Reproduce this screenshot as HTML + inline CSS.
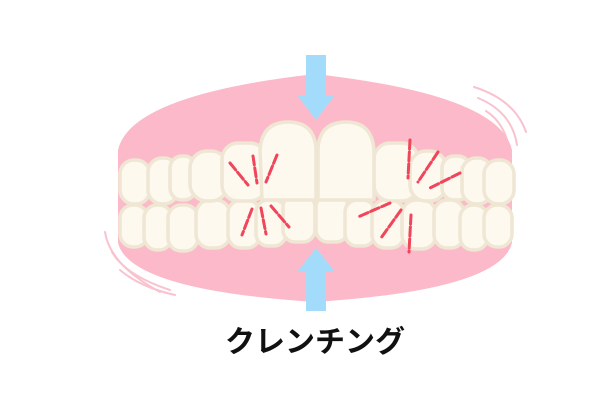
<!DOCTYPE html>
<html><head><meta charset="utf-8"><style>
html,body{margin:0;padding:0;background:#fff;width:600px;height:400px;overflow:hidden}
svg{display:block}
</style></head><body>
<svg width="600" height="400" viewBox="0 0 600 400">
<!-- motion lines -->
<g fill="none" stroke="#f8c3cf" stroke-width="2" stroke-linecap="round">
<path d="M474 87 Q515 100 526 132"/>
<path d="M478 98 Q512 112 517 145"/>
<path d="M486 111 Q508 125 510 158"/>
<path d="M105 232 Q110 265 160 292"/>
<path d="M112 252 Q125 275 170 290"/>
<path d="M120 270 Q140 287 175 295"/>
</g>
<!-- gum -->
<path d="M118 150 Q130 95 315 74 Q500 95 512 150 L512 243 Q500 290 315 302 Q130 290 118 243 Z" fill="#fbb9c9"/>
<g fill="#fdf9ef" stroke="#efe6d3" stroke-width="3.5" stroke-linejoin="round">
<!-- lower teeth -->
<rect x="120" y="205" width="28" height="42" rx="13"/>
<rect x="144" y="205" width="28" height="45" rx="13"/>
<rect x="168" y="205" width="30" height="46" rx="13"/>
<rect x="196" y="200" width="34" height="48" rx="14"/>
<rect x="228" y="200" width="32" height="48" rx="13"/>
<rect x="256" y="200" width="30" height="46" rx="12"/>
<rect x="283" y="195" width="32" height="47" rx="12"/>
<rect x="316" y="195" width="32" height="47" rx="12"/>
<rect x="345" y="200" width="30" height="46" rx="12"/>
<rect x="372" y="200" width="32" height="48" rx="13"/>
<rect x="402" y="200" width="34" height="49" rx="14"/>
<rect x="434" y="200" width="30" height="48" rx="13"/>
<rect x="460" y="205" width="28" height="45" rx="13"/>
<rect x="484" y="205" width="28" height="42" rx="13"/>
<!-- upper teeth -->
<rect x="120" y="160" width="30" height="44" rx="14"/>
<rect x="148" y="158" width="30" height="46" rx="14"/>
<rect x="170" y="156" width="26" height="44" rx="12"/>
<rect x="190" y="151" width="38" height="50" rx="17"/>
<rect x="222" y="143" width="44" height="58" rx="16"/>
<rect x="374" y="143" width="44" height="58" rx="16"/>
<rect x="410" y="151" width="36" height="50" rx="16"/>
<rect x="442" y="156" width="28" height="44" rx="12"/>
<rect x="462" y="158" width="30" height="46" rx="14"/>
<rect x="484" y="160" width="30" height="44" rx="14"/>
<path d="M262 200 L260 150 Q262 122 288 122 Q314 122 316 148 L316 200 Z"/>
<path d="M318 200 L318 148 Q320 122 346 122 Q372 122 374 150 L374 200 Z"/>
</g>
<!-- red dashed lines -->
<g stroke="#f0455a" stroke-width="3" stroke-dasharray="9 3" stroke-linecap="round" fill="none">
<path d="M230 163 L248 185"/><path d="M253 156 L257 183"/><path d="M277 155 L266 182"/>
<path d="M252 209 L242 235"/><path d="M261 208 L266 234"/><path d="M271 206 L289 227"/>
<path d="M410 140 L408 178"/><path d="M438 152 L418 182"/><path d="M460 173 L428 189"/>
<path d="M390 203 L358 217"/><path d="M401 210 L381 238"/><path d="M411 215 L409 252"/>
</g>
<!-- arrows -->
<g fill="#a3dcfb">
<rect x="306" y="55" width="20" height="42"/>
<polygon points="297,95 335,95 316,120"/>
<polygon points="297,272 335,272 316,248"/>
<rect x="306" y="271" width="20" height="40"/>
</g>
<text x="315" y="352" text-anchor="middle" font-family="'Liberation Sans','Noto Sans CJK JP',sans-serif" font-size="30" font-weight="bold" fill="#111">クレンチング</text>
</svg>
</body></html>
